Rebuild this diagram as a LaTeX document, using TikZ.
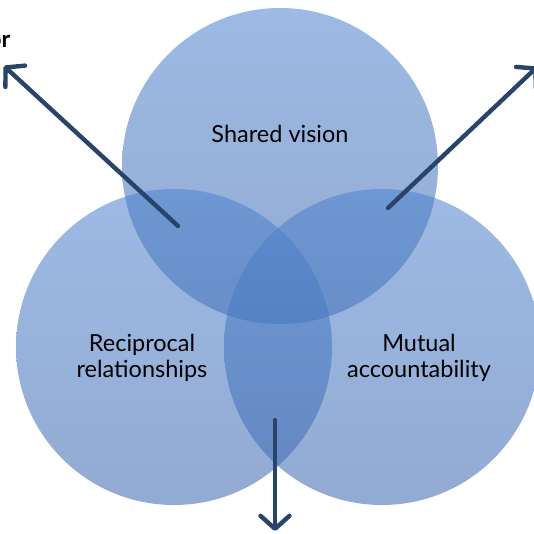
\documentclass[tikz,border=0pt]{standalone}
\usepackage{fontspec}
\setmainfont{Lato}
\usetikzlibrary{arrows.meta}
\definecolor{discTop}{RGB}{78,132,206}
\definecolor{discBottom}{RGB}{62,104,176}
\definecolor{arrowInk}{RGB}{40,68,104}
\tikzset{
  disc/.style={circle, minimum size=316pt, inner sep=0pt,
    top color=discTop, bottom color=discBottom, fill opacity=0.56, draw=none},
  label/.style={font=\fontsize{23.5}{26.5}\selectfont, align=center, text=black},
  pointer/.style={draw=arrowInk, line width=4.4pt, line cap=round,
    -{Straight Barb[length=13pt, width=29pt, line cap=round, line join=round]}}
}
\begin{document}
\begin{tikzpicture}[x=1pt, y=-1pt]
  \useasboundingbox (0,0) rectangle (533,534);

  % three overlapping discs
  \node[disc] (vision) at (280,166) {};
  \node[disc] (recip)  at (174,347) {};
  \node[disc] (mutual) at (382,347) {};

  % captions
  \node[label] (tvision) at (280,134) {Shared vision};
  \node[label] (trecip)  at (142,358) {Reciprocal\\relationships};
  \node[label] (tmutual) at (419,358) {Mutual\\accountability};
  \node[label, font=\fontsize{23.5}{26.5}\selectfont\bfseries, anchor=base east] (tor) at (14,48) {or};

  % arrow anchors
  \coordinate (lensL) at (178,226);
  \coordinate (tipL)  at (4,66);
  \coordinate (lensR) at (388,208);
  \coordinate (tipR)  at (537,67);
  \coordinate (lensB) at (275,420);
  \coordinate (tipB)  at (275,531);

  \draw[pointer] (lensL) -- (tipL);
  \draw[pointer] (lensR) -- (tipR);
  \draw[pointer] (lensB) -- (tipB);
\end{tikzpicture}
\end{document}
